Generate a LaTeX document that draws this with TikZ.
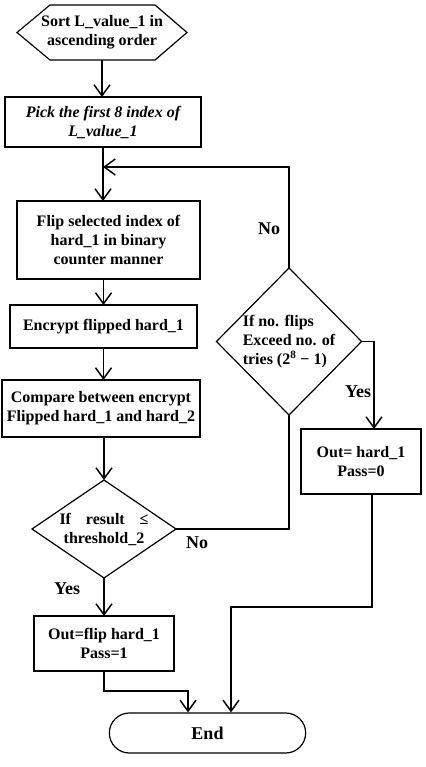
\documentclass[tikz,border=0pt]{standalone}
\usepackage{fontspec}
\setmainfont{Liberation Serif}
\usetikzlibrary{arrows.meta,shapes.geometric,shapes.misc}

\tikzset{
  txt/.style={font=\bfseries\fontsize{16}{19}\selectfont},
  stepbox/.style={draw, line width=1.2pt, rectangle, align=center, inner sep=2pt, outer sep=0pt, txt},
  decision/.style={draw, line width=1.2pt, diamond, inner sep=0pt, outer sep=0pt, txt},
  flow/.style={line width=1.5pt, -{Straight Barb[length=11pt,width=16pt,line width=1.5pt]}},
  link/.style={line width=1.5pt},
  lbl/.style={font=\bfseries\fontsize{18}{21}\selectfont}
}

\begin{document}
\begin{tikzpicture}[x=1pt,y=-1pt]
    \useasboundingbox (0,0) rectangle (425,767);

    % Start (hexagon)
    \node[txt, align=center, minimum width=170pt, minimum height=55pt, outer sep=0pt] (sort) at (102,32.5) {Sort L\_value\_1 in\\ascending order};
    \draw[line width=1.2pt] ([xshift=-52pt]sort.north) -- ([xshift=53pt]sort.north) -- (sort.east)
        -- ([xshift=53pt]sort.south) -- ([xshift=-52pt]sort.south) -- (sort.west) -- cycle;

    % Steps
    \node[stepbox, minimum width=196pt, minimum height=50pt, font=\bfseries\itshape\fontsize{16}{19}\selectfont] (pick) at (103,122) {Pick the first 8 index of\\L\_value\_1};
    \node[stepbox, minimum width=183pt, minimum height=78pt] (flip) at (108.5,240) {Flip selected index of\\hard\_1 in binary\\counter manner};
    \node[stepbox, minimum width=187pt, minimum height=43pt] (encrypt) at (103.5,326.5) {Encrypt flipped hard\_1};
    \node[stepbox, minimum width=198pt, minimum height=57pt] (compare) at (101,408.5) {Compare between encrypt\\Flipped hard\_1 and hard\_2};

    % Decisions
    \node[decision, aspect=1.5, minimum width=144pt, minimum height=98pt, align=center] (cond1) at (104,529) {\makebox[89pt][s]{If\hfill result\hfill ≤}\\threshold\_2};
    \node[decision, aspect=1, minimum width=144pt, minimum height=147pt, align=left] (cond2) at (289,341.5) {If no. flips\\Exceed no. of\\tries (2\textsuperscript{8} − 1)};

    % Outputs
    \node[stepbox, minimum width=120pt, minimum height=65pt] (out0) at (361,461.5) {Out= hard\_1\\Pass=0};
    \node[stepbox, minimum width=140pt, minimum height=55pt] (out1) at (104,643.5) {Out=flip hard\_1\\Pass=1};

    % End
    \node[draw, line width=1.2pt, rounded rectangle, minimum width=203pt, minimum height=40pt, lbl] (end) at (207.5,733) {End};

    % Connectors
    \coordinate (back) at (103,167);
    \coordinate (j1) at (188,691);
    \coordinate (j2) at (231,607);
    \draw[flow] (sort.south) -- (sort.south |- pick.north);
    \draw[flow] (pick.south) -- (pick.south |- flip.north);
    \draw[flow] (flip.south -| encrypt) -- (encrypt.north);
    \draw[flow] (encrypt.south) -- (encrypt.south |- compare.north);
    \draw[flow] (compare.south -| cond1) -- (cond1.north);
    \draw[flow] (cond1.south) -- (out1.north);
    \draw[flow] (out1.south) |- (j1) -- (j1 |- end.north);
    \draw[link] (cond1.east) -| (cond2.south);
    \draw[flow] (cond2.north) |- (back);
    \draw[flow] (cond2.east) -| ([xshift=13pt]out0.north);
    \draw[flow] ([xshift=11pt]out0.south) |- (j2) -- (j2 |- end.north);

    % Labels
    \node[lbl] (no1) at (269,229) {No};
    \node[lbl] (yes1) at (358,392) {Yes};
    \node[lbl] (no2) at (197,543) {No};
    \node[lbl] (yes2) at (67,589) {Yes};
\end{tikzpicture}
\end{document}
